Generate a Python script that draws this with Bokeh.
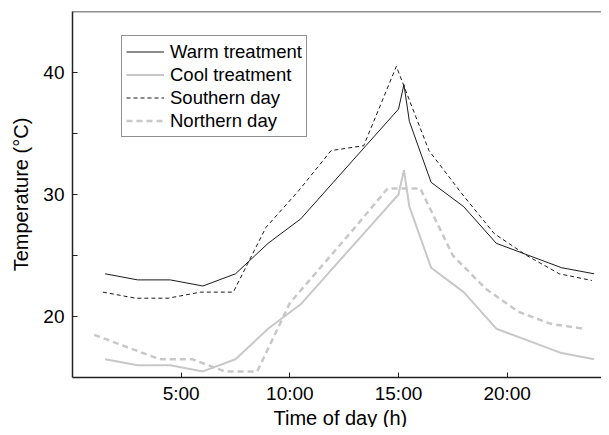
from bokeh.plotting import figure
from bokeh.models import FixedTicker, Span, Legend, LegendItem, Range1d, Title
from bokeh.embed import file_html
from bokeh.resources import INLINE

# ---- data ----
warm_x = [1.5, 3, 4.5, 6, 7.5, 9, 10.5, 12, 13.5, 15, 15.25, 15.5, 16.5, 18, 19.5, 21, 22.5, 24]
warm_y = [23.5, 23.0, 23.0, 22.5, 23.5, 26.0, 28.0, 31.0, 34.0, 37.0, 39.0, 36.0, 31.0, 29.0, 26.0, 25.0, 24.0, 23.5]

cool_x = [1.5, 3, 4.5, 6, 7.5, 9, 10.5, 12, 13.5, 15, 15.25, 15.5, 16.5, 18, 19.5, 21, 22.5, 24]
cool_y = [16.5, 16.0, 16.0, 15.5, 16.5, 19.0, 21.0, 24.0, 27.0, 30.0, 32.0, 29.0, 24.0, 22.0, 19.0, 18.0, 17.0, 16.5]

south_x = [1.4, 2.9, 4.4, 5.9, 7.4, 8.9, 10.4, 11.9, 13.4, 14.9, 16.4, 17.9, 19.4, 20.9, 22.4, 23.9]
south_y = [22.0, 21.5, 21.5, 22.0, 22.0, 27.3, 30.3, 33.6, 34.0, 40.5, 33.6, 30.1, 26.8, 25.0, 23.5, 22.95]

north_x = [1.0, 2.5, 4.0, 5.5, 7.0, 8.5, 10.0, 11.5, 13.0, 14.5, 16.0, 17.5, 19.0, 20.5, 22.0, 23.5]
north_y = [18.5, 17.5, 16.5, 16.5, 15.5, 15.5, 21.1, 24.2, 27.3, 30.5, 30.5, 25.0, 22.3, 20.4, 19.4, 19.0]

x_ticks = [5, 10, 15, 20]
x_tick_labels = ["5:00", "10:00", "15:00", "20:00"]
y_ticks = [20, 30, 40]
y_minor_ticks = [25, 35]

series_names = ["Warm treatment", "Cool treatment", "Southern day", "Northern day"]
x_title = "Time of day (h)"
y_title = "Temperature (°C)"

FONT = "Liberation Sans"
BLACK = "#1a1a1a"
GRAY = "#c8c8c8"

p = figure(width=601, height=427, output_backend="svg", toolbar_location=None,
           x_range=Range1d(0, 24.34), y_range=Range1d(15, 45),
           min_border_left=72, min_border_right=0, min_border_top=11, min_border_bottom=50)
p.outline_line_color = None
p.xgrid.visible = False
p.ygrid.visible = False
p.background_fill_color = "white"
p.border_fill_color = "white"

r_warm = p.line(warm_x, warm_y, line_color=BLACK, line_width=1)
r_cool = p.line(cool_x, cool_y, line_color=GRAY, line_width=2)
r_south = p.line(south_x, south_y, line_color=BLACK, line_width=1, line_dash="4 3")
r_north = p.line(north_x, north_y, line_color=GRAY, line_width=2.5, line_dash="6 4")

# top frame line
p.add_layout(Span(location=45, dimension="width", line_color="#222222", line_width=1.5))

# axes
for ax in (p.xaxis[0], p.yaxis[0]):
    ax.axis_line_color = "#222222"
    ax.axis_line_width = 1.5
    ax.major_tick_in = 5
    ax.major_tick_out = 0
    ax.minor_tick_in = 5
    ax.minor_tick_out = 0
    ax.major_tick_line_color = "#222222"
    ax.minor_tick_line_color = "#222222"
    ax.major_label_text_font = FONT
    ax.major_label_text_font_size = "19px"
    ax.major_label_text_color = "black"
    ax.axis_label_text_font = FONT
    ax.axis_label_text_font_size = "20px"
    ax.axis_label_text_font_style = "normal"
    ax.axis_label_text_color = "black"

p.xaxis.ticker = FixedTicker(ticks=x_ticks, minor_ticks=[])
p.xaxis.major_label_overrides = dict(zip(x_ticks, x_tick_labels))
p.xaxis.major_label_standoff = 5

# x-axis title as a title panel below the axis
p.add_layout(Title(text=x_title, align="left", offset=201, standoff=-4,
                   text_font=FONT, text_font_size="20px", text_font_style="normal",
                   text_color="black"), "below")

p.yaxis.ticker = FixedTicker(ticks=y_ticks, minor_ticks=y_minor_ticks)
p.yaxis.axis_label = y_title
p.yaxis.major_label_standoff = 8
p.yaxis.axis_label_standoff = 8

legend = Legend(items=[
    LegendItem(label=series_names[0], renderers=[r_warm]),
    LegendItem(label=series_names[1], renderers=[r_cool]),
    LegendItem(label=series_names[2], renderers=[r_south]),
    LegendItem(label=series_names[3], renderers=[r_north]),
], location=(49, 240))
legend.margin = 0
legend.padding = 4
legend.spacing = 0
legend.glyph_width = 38
legend.glyph_height = 23
legend.label_height = 23
legend.label_standoff = 6
legend.label_text_font = FONT
legend.label_text_font_size = "18.5px"
legend.label_text_color = "black"
legend.border_line_color = "#222222"
legend.border_line_width = 1
legend.background_fill_color = "white"
legend.background_fill_alpha = 1.0
p.add_layout(legend, "center")

open("out.html", "w").write(file_html(p, INLINE))
